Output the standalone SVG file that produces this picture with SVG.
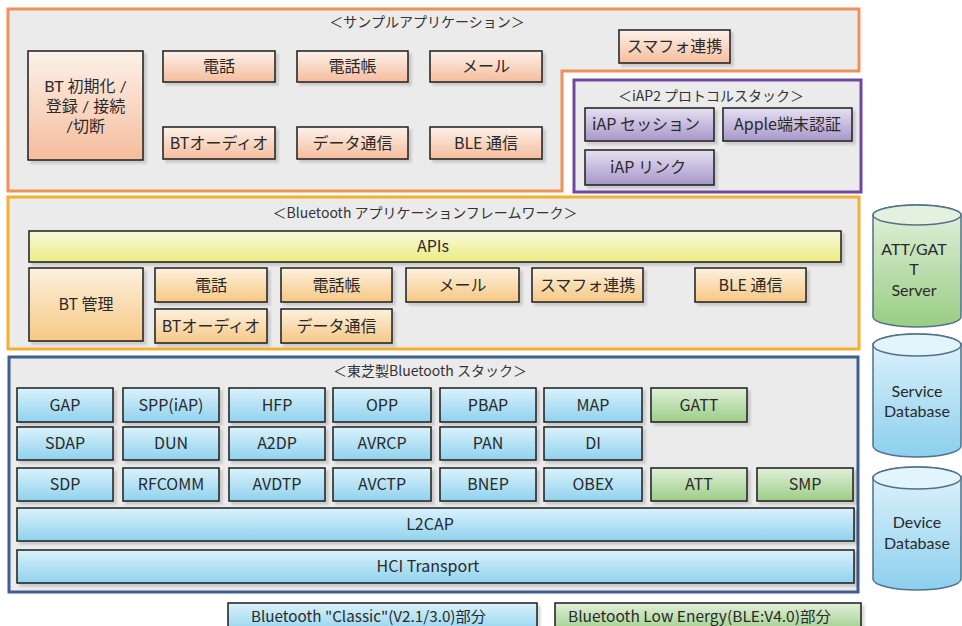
<svg xmlns="http://www.w3.org/2000/svg" width="962" height="626" viewBox="0 0 962 626">
<defs>
<linearGradient id="gO" x1="0" y1="0" x2="0" y2="1"><stop offset="0" stop-color="#fdf1ea"/><stop offset="1" stop-color="#f5bd9c"/></linearGradient>
<linearGradient id="gP" x1="0" y1="0" x2="0" y2="1"><stop offset="0" stop-color="#e6e0f1"/><stop offset="1" stop-color="#a797ca"/></linearGradient>
<linearGradient id="gY" x1="0" y1="0" x2="0" y2="1"><stop offset="0" stop-color="#f9f9dc"/><stop offset="1" stop-color="#ecec82"/></linearGradient>
<linearGradient id="gA" x1="0" y1="0" x2="0" y2="1"><stop offset="0" stop-color="#fdf1de"/><stop offset="1" stop-color="#f6c884"/></linearGradient>
<linearGradient id="gB" x1="0" y1="0" x2="0" y2="1"><stop offset="0" stop-color="#daf2fb"/><stop offset="1" stop-color="#90d2ee"/></linearGradient>
<linearGradient id="gG" x1="0" y1="0" x2="0" y2="1"><stop offset="0" stop-color="#e1f0da"/><stop offset="1" stop-color="#9ccd86"/></linearGradient>
<linearGradient id="cG" x1="0" y1="0" x2="0" y2="1"><stop offset="0" stop-color="#e4f1de"/><stop offset="1" stop-color="#99cd83"/></linearGradient>
<linearGradient id="cB" x1="0" y1="0" x2="0" y2="1"><stop offset="0" stop-color="#e2f4fc"/><stop offset="1" stop-color="#8ccfed"/></linearGradient>
<filter id="sh" x="-10%" y="-10%" width="130%" height="150%"><feDropShadow dx="3" dy="3" stdDeviation="0.8" flood-color="#000" flood-opacity="0.14"/></filter>
</defs>
<style>
.c{fill:#ebebeb;stroke-width:3}
.b{stroke:#1e1e1e;stroke-width:1.5;filter:url(#sh)}
.o{fill:url(#gO)} .p{fill:url(#gP)} .y{fill:url(#gY)} .a{fill:url(#gA)} .bl{fill:url(#gB)} .gr{fill:url(#gG)}
.cyl{stroke:#52708a;stroke-width:1.5}
text{font-family:"Noto Sans CJK JP","Noto Sans",sans-serif;fill:#2a2a2a}
.t{font-size:16px;text-anchor:middle}
.ml{font-family:"Lato","Noto Sans CJK JP",sans-serif;font-size:16px;text-anchor:middle}
.h{font-size:14px;text-anchor:middle;fill:#333}
.lg{font-size:15px}
</style>
<rect width="962" height="626" fill="#ffffff"/>

<g id="sample-apps">
<path class="c" d="M8,9 H859 V71 H562 V191 H8 Z" stroke="#f0905a"/>
<text class="h" x="427" y="27">＜サンプルアプリケーション＞</text>
</g>
<g id="sa-init"><rect class="b o" x="28" y="51" width="115" height="109"/><text class="ml" x="85.5" y="92">BT 初期化 /</text><text class="ml" x="85.5" y="112">登録 / 接続</text><text class="ml" x="85.5" y="132">/切断</text></g>
<g id="sa-tel"><rect class="b o" x="163" y="51" width="112" height="31"/><text class="t" x="219" y="72">電話</text></g>
<g id="sa-book"><rect class="b o" x="297" y="51" width="111" height="31"/><text class="t" x="352.5" y="72">電話帳</text></g>
<g id="sa-mail"><rect class="b o" x="430" y="51" width="112" height="31"/><text class="t" x="486" y="72">メール</text></g>
<g id="sa-audio"><rect class="b o" x="163" y="127" width="112" height="32"/><text class="t" x="219" y="148.5">BTオーディオ</text></g>
<g id="sa-data"><rect class="b o" x="297" y="127" width="111" height="32"/><text class="t" x="352.5" y="148.5">データ通信</text></g>
<g id="sa-ble"><rect class="b o" x="430" y="127" width="112" height="32"/><text class="t" x="486" y="148.5">BLE 通信</text></g>
<g id="sa-phone"><rect class="b o" x="619" y="30" width="111" height="33"/><text class="t" x="674.5" y="52">スマフォ連携</text></g>

<g id="iap2-stack">
<rect class="c" x="574" y="80" width="287" height="112" stroke="#7048a0"/>
<text class="h" x="711" y="101">＜iAP2 プロトコルスタック＞</text>
</g>
<g id="iap-session"><rect class="b p" x="585" y="108" width="129" height="33"/><text class="t" x="646" y="130">iAP セッション</text></g>
<g id="iap-auth"><rect class="b p" x="723" y="108" width="129" height="33"/><text class="t" x="787.5" y="130">Apple端末認証</text></g>
<g id="iap-link"><rect class="b p" x="585" y="150" width="129" height="35"/><text class="t" x="648" y="173">iAP リンク</text></g>

<g id="framework">
<rect class="c" x="8" y="197" width="851" height="152" stroke="#f5b030"/>
<text class="h" x="425" y="218">＜Bluetooth アプリケーションフレームワーク＞</text>
</g>
<g id="fw-apis"><rect class="b y" x="29" y="231" width="812" height="31"/><text class="t" x="433" y="252">APIs</text></g>
<g id="fw-mgr"><rect class="b a" x="29" y="268" width="114" height="73"/><text class="t" x="86" y="310">BT 管理</text></g>
<g id="fw-tel"><rect class="b a" x="155" y="268" width="112" height="34"/><text class="t" x="211" y="290.5">電話</text></g>
<g id="fw-book"><rect class="b a" x="281" y="268" width="111" height="34"/><text class="t" x="336.5" y="290.5">電話帳</text></g>
<g id="fw-mail"><rect class="b a" x="406" y="268" width="113" height="34"/><text class="t" x="462.5" y="290.5">メール</text></g>
<g id="fw-phone"><rect class="b a" x="532" y="268" width="111" height="34"/><text class="t" x="587.5" y="290.5">スマフォ連携</text></g>
<g id="fw-ble"><rect class="b a" x="695" y="268" width="111" height="34"/><text class="t" x="750.5" y="290.5">BLE 通信</text></g>
<g id="fw-audio"><rect class="b a" x="155" y="309" width="112" height="34"/><text class="t" x="211" y="331.5">BTオーディオ</text></g>
<g id="fw-data"><rect class="b a" x="281" y="309" width="111" height="34"/><text class="t" x="336.5" y="331.5">データ通信</text></g>

<g id="bt-stack">
<rect class="c" x="9" y="357" width="849" height="235" stroke="#3d5f8f"/>
<text class="h" x="430" y="376">＜東芝製Bluetooth スタック＞</text>
</g>
<g id="gap"><rect class="b bl" x="17" y="388" width="96" height="34"/><text class="t" x="65" y="410.5">GAP</text></g>
<g id="spp"><rect class="b bl" x="123" y="388" width="96" height="34"/><text class="t" x="171" y="410.5">SPP(iAP)</text></g>
<g id="hfp"><rect class="b bl" x="229" y="388" width="96" height="34"/><text class="t" x="277" y="410.5">HFP</text></g>
<g id="opp"><rect class="b bl" x="333" y="388" width="98" height="34"/><text class="t" x="382" y="410.5">OPP</text></g>
<g id="pbap"><rect class="b bl" x="440" y="388" width="96" height="34"/><text class="t" x="488" y="410.5">PBAP</text></g>
<g id="map"><rect class="b bl" x="544" y="388" width="98" height="34"/><text class="t" x="593" y="410.5">MAP</text></g>
<g id="gatt"><rect class="b gr" x="651" y="388" width="96" height="34"/><text class="t" x="699" y="410.5">GATT</text></g>
<g id="sdap"><rect class="b bl" x="17" y="427" width="96" height="33"/><text class="t" x="65" y="449">SDAP</text></g>
<g id="dun"><rect class="b bl" x="123" y="427" width="96" height="33"/><text class="t" x="171" y="449">DUN</text></g>
<g id="a2dp"><rect class="b bl" x="229" y="427" width="96" height="33"/><text class="t" x="277" y="449">A2DP</text></g>
<g id="avrcp"><rect class="b bl" x="333" y="427" width="98" height="33"/><text class="t" x="382" y="449">AVRCP</text></g>
<g id="pan"><rect class="b bl" x="440" y="427" width="96" height="33"/><text class="t" x="488" y="449">PAN</text></g>
<g id="di"><rect class="b bl" x="544" y="427" width="98" height="33"/><text class="t" x="593" y="449">DI</text></g>
<g id="sdp"><rect class="b bl" x="17" y="468" width="96" height="33"/><text class="t" x="65" y="490">SDP</text></g>
<g id="rfcomm"><rect class="b bl" x="123" y="468" width="96" height="33"/><text class="t" x="171" y="490">RFCOMM</text></g>
<g id="avdtp"><rect class="b bl" x="229" y="468" width="96" height="33"/><text class="t" x="277" y="490">AVDTP</text></g>
<g id="avctp"><rect class="b bl" x="333" y="468" width="98" height="33"/><text class="t" x="382" y="490">AVCTP</text></g>
<g id="bnep"><rect class="b bl" x="440" y="468" width="96" height="33"/><text class="t" x="488" y="490">BNEP</text></g>
<g id="obex"><rect class="b bl" x="544" y="468" width="98" height="33"/><text class="t" x="593" y="490">OBEX</text></g>
<g id="att"><rect class="b gr" x="651" y="468" width="96" height="33"/><text class="t" x="699" y="490">ATT</text></g>
<g id="smp"><rect class="b gr" x="757" y="468" width="96" height="33"/><text class="t" x="805" y="490">SMP</text></g>
<g id="l2cap"><rect class="b bl" x="17" y="508" width="837" height="33"/><text class="t" x="430" y="530">L2CAP</text></g>
<g id="hci"><rect class="b bl" x="17" y="550" width="837" height="33"/><text class="t" x="428" y="572">HCI Transport</text></g>

<g id="att-gatt-server">
<path class="cyl" fill="url(#cG)" d="M873,215 V317 A44,10 0 0 0 961,317 V215 A44,10 0 0 0 873,215 Z"/>
<ellipse class="cyl" cx="917" cy="215" rx="44" ry="10" fill="#e4f1de"/>
<text class="ml" x="914" y="255">ATT/GAT</text><text class="ml" x="914" y="275">T</text><text class="ml" x="914" y="296">Server</text>
</g>
<g id="service-db">
<path class="cyl" fill="url(#cB)" d="M873,345 V446 A44,11 0 0 0 961,446 V345 A44,11 0 0 0 873,345 Z"/>
<ellipse class="cyl" cx="917" cy="345" rx="44" ry="11" fill="#e2f4fc"/>
<text class="ml" x="917" y="397">Service</text><text class="ml" x="917" y="417">Database</text>
</g>
<g id="device-db">
<path class="cyl" fill="url(#cB)" d="M873,478 V579 A44,11 0 0 0 961,579 V478 A44,11 0 0 0 873,478 Z"/>
<ellipse class="cyl" cx="917" cy="478" rx="44" ry="11" fill="#e2f4fc"/>
<text class="ml" x="917" y="528">Device</text><text class="ml" x="917" y="549">Database</text>
</g>

<g id="legend-classic"><rect class="b bl" x="228" y="603" width="309" height="30"/><text class="lg" x="251" y="622" textLength="235" lengthAdjust="spacingAndGlyphs">Bluetooth "Classic"(V2.1/3.0)部分</text></g>
<g id="legend-ble"><rect class="b gr" x="555" y="603" width="306" height="30"/><text class="lg" x="568" y="622" textLength="263" lengthAdjust="spacingAndGlyphs">Bluetooth Low Energy(BLE:V4.0)部分</text></g>
</svg>
